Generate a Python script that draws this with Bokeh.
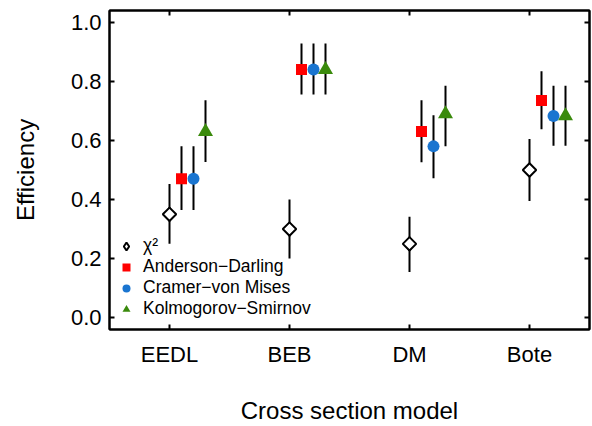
import math
from bokeh.plotting import figure
from bokeh.models import (Range1d, ColumnDataSource, FixedTicker, LinearAxis,
                          Legend, LegendItem, PrintfTickFormatter, CustomJSTickFormatter)
from bokeh.transform import dodge
from bokeh.embed import file_html
from bokeh.resources import INLINE

# ---- data ----
categories = ["EEDL", "BEB", "DM", "Bote"]

chi2 = [0.35, 0.30, 0.25, 0.50]
chi2_lo = [0.25, 0.20, 0.155, 0.395]
chi2_hi = [0.453, 0.40, 0.342, 0.605]

ad = [0.47, 0.84, 0.63, 0.735]
ad_lo = [0.365, 0.756, 0.526, 0.638]
ad_hi = [0.58, 0.928, 0.736, 0.834]

cvm = [0.47, 0.84, 0.58, 0.683]
cvm_lo = [0.365, 0.756, 0.472, 0.582]
cvm_hi = [0.58, 0.928, 0.685, 0.785]

ks = [0.63, 0.84, 0.69, 0.683]
ks_lo = [0.527, 0.756, 0.58, 0.582]
ks_hi = [0.736, 0.928, 0.785, 0.785]

y_ticks = [0.0, 0.2, 0.4, 0.6, 0.8, 1.0]
series_labels = ["\u03c7\u00b2", "Anderson\u2212Darling", "Cramer\u2212von Mises", "Kolmogorov\u2212Smirnov"]

FONT = "Liberation Sans"

positions = list(range(1, len(categories) + 1))

p = figure(width=592, height=426, output_backend="svg", toolbar_location=None,
           x_range=Range1d(0.5, len(categories) + 0.5), y_range=Range1d(-0.04, 1.04),
           min_border_left=109, min_border_right=3, min_border_top=10, min_border_bottom=96)
p.xgrid.visible = False
p.ygrid.visible = False
p.outline_line_color = "black"
p.outline_line_width = 2
p.background_fill_color = "white"
p.border_fill_color = "white"

blank = CustomJSTickFormatter(code="return ''")

def style_axis(ax):
    ax.axis_line_width = 2
    ax.axis_line_color = "black"
    ax.major_tick_in = 5
    ax.major_tick_out = 0
    ax.major_tick_line_width = 2
    ax.major_tick_line_color = "black"
    ax.minor_tick_line_color = None
    ax.major_label_text_font = FONT
    ax.major_label_text_color = "black"
    ax.axis_label_text_font = FONT
    ax.axis_label_text_font_style = "normal"
    ax.axis_label_text_color = "black"

xa = p.xaxis[0]
style_axis(xa)
xa.ticker = FixedTicker(ticks=positions)
xa.major_label_overrides = {pos: c for pos, c in zip(positions, categories)}
xa.axis_label = "Cross section model"
xa.axis_label_text_font_size = "24px"
xa.major_label_text_font_size = "22px"
xa.major_label_standoff = 12
xa.axis_label_standoff = 27

ya = p.yaxis[0]
style_axis(ya)
ya.axis_label = "Efficiency"
ya.axis_label_text_font_size = "24px"
ya.major_label_text_font_size = "22px"
ya.major_label_standoff = 8
ya.axis_label_standoff = 29
ya.ticker = FixedTicker(ticks=y_ticks)
ya.formatter = PrintfTickFormatter(format="%.1f")

ra = LinearAxis(ticker=FixedTicker(ticks=y_ticks), formatter=blank)
style_axis(ra)
ra.major_label_standoff = 0
p.add_layout(ra, "right")
ta = LinearAxis(ticker=FixedTicker(ticks=positions), formatter=blank)
style_axis(ta)
ta.major_label_standoff = 0
p.add_layout(ta, "above")

src = ColumnDataSource(dict(pos=positions, chi2=chi2, chi2_lo=chi2_lo, chi2_hi=chi2_hi,
                            ad=ad, ad_lo=ad_lo, ad_hi=ad_hi,
                            cvm=cvm, cvm_lo=cvm_lo, cvm_hi=cvm_hi,
                            ks=ks, ks_lo=ks_lo, ks_hi=ks_hi))

series = [("chi2", 0.0), ("ad", 0.1), ("cvm", 0.2), ("ks", 0.3)]
for key, off in series:
    xd = dodge("pos", off)
    p.segment(x0=xd, x1=xd, y0=key + "_lo", y1=key + "_hi", source=src,
              line_color="black", line_width=2)

# diamond used for the legend swatch; covered in the plot by the rotated square drawn on top
r_chi_leg = p.scatter(x=dodge("pos", 0.0), y="chi2", source=src, marker="diamond", size=13,
                      fill_color="white", line_color="black", line_width=2)
r_chi = p.scatter(x=dodge("pos", 0.0), y="chi2", source=src, marker="square",
                  angle=math.pi / 4, size=9.5, fill_color="white", line_color="black", line_width=2)
r_ad = p.scatter(x=dodge("pos", 0.1), y="ad", source=src, marker="square",
                 size=11, fill_color="#ff0000", line_color=None)
r_cvm = p.scatter(x=dodge("pos", 0.2), y="cvm", source=src, marker="circle",
                  size=12, fill_color="#1a75d0", line_color=None)
r_ks = p.scatter(x=dodge("pos", 0.3), y="ks", source=src, marker="triangle",
                 size=15, fill_color="#3a8a0c", line_color=None)

legend = Legend(items=[LegendItem(label=series_labels[0], renderers=[r_chi_leg]),
                       LegendItem(label=series_labels[1], renderers=[r_ad]),
                       LegendItem(label=series_labels[2], renderers=[r_cvm]),
                       LegendItem(label=series_labels[3], renderers=[r_ks])],
                location=(7, 10))
legend.padding = 0
legend.margin = 0
legend.spacing = 0
legend.background_fill_alpha = 0
legend.border_line_color = None
legend.label_text_font = FONT
legend.label_text_font_size = "17.5px"
legend.label_text_color = "black"
legend.glyph_width = 20
legend.glyph_height = 20
legend.label_height = 20
legend.label_standoff = 7
p.add_layout(legend, "center")

open("out.html", "w").write(file_html(p, INLINE))
